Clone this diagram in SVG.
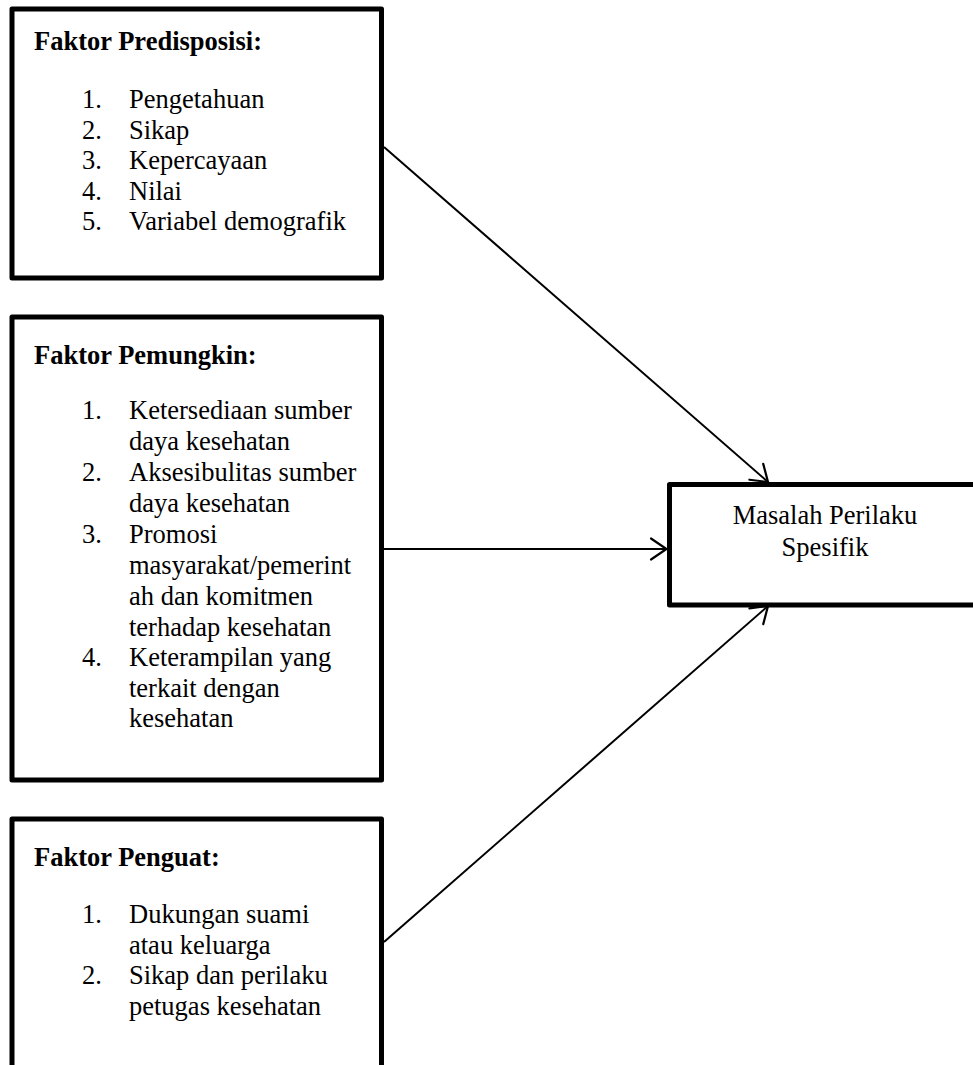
<svg xmlns="http://www.w3.org/2000/svg" width="973" height="1065" viewBox="0 0 973 1065">
<style>
.box{fill:#fff;stroke:#000;stroke-width:5;stroke-linejoin:round}
.t{font-family:"Liberation Serif","Times New Roman",serif;font-size:26.5px;fill:#000}
.b{font-weight:bold}
.c{text-anchor:middle}
.conn{stroke:#000;stroke-width:2;fill:none}
</style>
<defs>
<marker id="arr" markerUnits="userSpaceOnUse" markerWidth="40" markerHeight="40" viewBox="-20 -20 40 40" refX="0" refY="0" orient="auto">
<path d="M-15.5,-10.5 L0,0 L-15.5,10.5" fill="none" stroke="#000" stroke-width="2.2" stroke-linecap="round" stroke-linejoin="miter"/>
</marker>
</defs>
<rect width="973" height="1065" fill="#fff"/>
<g id="predisposisi">
<rect class="box" x="12" y="9" width="369.5" height="269"/>
<text class="t b" x="34" y="50">Faktor Predisposisi:</text>
<text class="t" x="82" y="108">1.</text><text class="t" x="129" y="108">Pengetahuan</text>
<text class="t" x="82" y="138.5">2.</text><text class="t" x="129" y="138.5">Sikap</text>
<text class="t" x="82" y="169">3.</text><text class="t" x="129" y="169">Kepercayaan</text>
<text class="t" x="82" y="199.5">4.</text><text class="t" x="129" y="199.5">Nilai</text>
<text class="t" x="82" y="230">5.</text><text class="t" x="129" y="230">Variabel demografik</text>
</g>
<g id="pemungkin">
<rect class="box" x="12" y="317" width="369.5" height="463"/>
<text class="t b" x="34" y="364">Faktor Pemungkin:</text>
<text class="t" x="82" y="419">1.</text><text class="t" x="129" y="419">Ketersediaan sumber</text>
<text class="t" x="129" y="450">daya kesehatan</text>
<text class="t" x="82" y="481">2.</text><text class="t" x="129" y="481">Aksesibulitas sumber</text>
<text class="t" x="129" y="512">daya kesehatan</text>
<text class="t" x="82" y="543">3.</text><text class="t" x="129" y="543">Promosi</text>
<text class="t" x="129" y="574">masyarakat/pemerint</text>
<text class="t" x="129" y="605">ah dan komitmen</text>
<text class="t" x="129" y="635.5">terhadap kesehatan</text>
<text class="t" x="82" y="666">4.</text><text class="t" x="129" y="666">Keterampilan yang</text>
<text class="t" x="129" y="696.5">terkait dengan</text>
<text class="t" x="129" y="727">kesehatan</text>
</g>
<g id="penguat">
<rect class="box" x="12" y="819" width="369.5" height="270"/>
<text class="t b" x="34" y="866">Faktor Penguat:</text>
<text class="t" x="82" y="923">1.</text><text class="t" x="129" y="923">Dukungan suami</text>
<text class="t" x="129" y="953.5">atau keluarga</text>
<text class="t" x="82" y="984">2.</text><text class="t" x="129" y="984">Sikap dan perilaku</text>
<text class="t" x="129" y="1014.5">petugas kesehatan</text>
</g>
<g id="masalah">
<rect class="box" x="669.5" y="484.5" width="320" height="120.5"/>
<text class="t c" x="825" y="524">Masalah Perilaku</text>
<text class="t c" x="825" y="555.5">Spesifik</text>
</g>
<g id="connectors">
<line class="conn" x1="384" y1="147" x2="768" y2="482" marker-end="url(#arr)"/>
<line class="conn" x1="384" y1="549" x2="666.5" y2="549" marker-end="url(#arr)"/>
<line class="conn" x1="384" y1="942" x2="768" y2="606" marker-end="url(#arr)"/>
</g>
</svg>
